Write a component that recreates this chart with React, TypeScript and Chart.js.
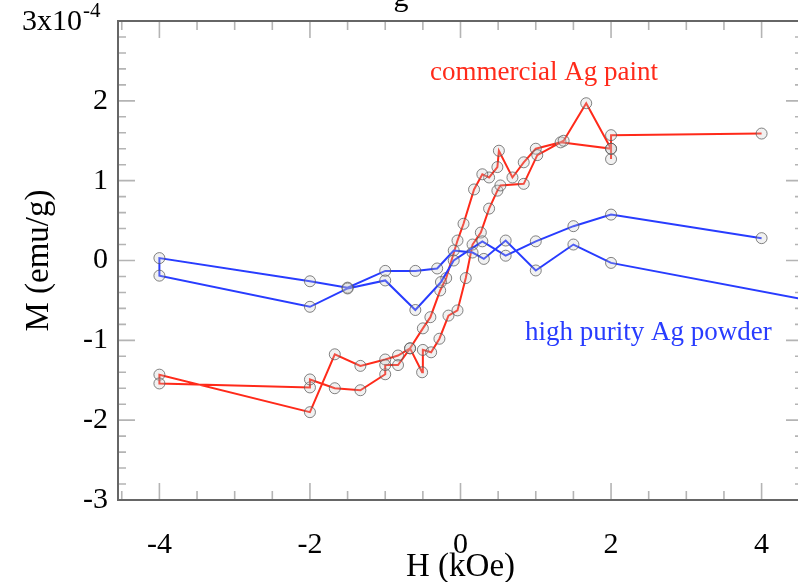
import React, { useEffect, useRef } from 'react';
import { Chart, registerables } from 'chart.js';

Chart.register(...registerables);

// ---- data (H in kOe, M in 1e-4 emu/g), in measurement order ----
const blueH = [5.0, 2.0, 1.5, 1.0, 0.6, 0.31, 0.16, -0.09, -0.31, -0.6, -1.0, -1.5, -2.0, -4.0,
  -4.0, -2.0, -1.5, -1.0, -0.6, -0.26, -0.09, 0.29, 0.6, 1.0, 1.5, 2.0, 4.0];
const blueM = [-0.565, -0.03, 0.2, -0.125, 0.25, 0.02, 0.1, 0.125, -0.1, -0.13, -0.13, -0.34, -0.26, 0.03,
  -0.19, -0.58, -0.35, -0.25, -0.62, -0.27, 0.0, 0.24, 0.06, 0.24, 0.43, 0.575, 0.28];

const redH = [2.0, 2.0, 1.33, 1.0, 0.84, 0.69, 0.51, 0.49, 0.38, 0.29, 0.18, 0.04, -0.04, -0.19, -0.27,
  -0.4, -0.5, -0.67, -0.83, -1.0, -1.33, -1.67, -2.0, -4.0,
  -4.0, -2.0, -2.0, -1.67, -1.33, -1.0, -1.0, -0.83, -0.67, -0.51, -0.5, -0.39, -0.28, -0.16, -0.04,
  0.07, 0.16, 0.27, 0.38, 0.49, 0.53, 0.84, 1.02, 1.37, 1.67, 2.0, 2.0, 4.0];
const redM = [1.27, 1.4, 1.48, 1.4, 1.23, 1.04, 1.375, 1.17, 1.04, 1.08, 0.89, 0.46, 0.25, -0.22, -0.375,
  -0.71, -0.85, -1.1, -1.19, -1.24, -1.32, -1.175, -1.9, -1.43,
  -1.54, -1.59, -1.49, -1.6, -1.625, -1.425, -1.31, -1.31, -1.1, -1.4, -1.12, -1.15, -0.98, -0.69, -0.625,
  -0.22, 0.2, 0.35, 0.65, 0.875, 0.94, 0.96, 1.32, 1.5, 1.97, 1.4, 1.57, 1.59];

const xTickValues = [-4, -2, 0, 2, 4];
const yTickValues = [-3, -2, -1, 0, 1, 2, 3];
const xTitle = 'H (kOe)';
const yTitle = 'M (emu/g)';
const yTopLabel = '3x10';
const yTopExponent = '-4';
const redName = 'commercial Ag paint';
const blueName = 'high purity Ag powder';
const topTitleFragment = 'g';

const xRange = [-4.55, 4.55];
const yRange = [-3, 3];
const redLabelAt = [-0.405, 2.26];
const blueLabelAt = [0.857, -0.996];

const SERIF = '"Liberation Serif", "Times New Roman", serif';
const RED = 'rgb(255, 42, 26)';
const BLUE = 'rgb(40, 60, 255)';

const toPts = (xs: number[], ys: number[]) => xs.map((x, i) => ({ x, y: ys[i] }));

const decor = {
  id: 'decor',
  beforeDatasetsDraw(chart: any) {
    const { ctx, chartArea: a, scales } = chart;
    const xs = scales.x, ys = scales.y;
    ctx.save();
    ctx.strokeStyle = '#b4b4b4';
    ctx.lineWidth = 1.6;
    ctx.beginPath();
    for (let i = -9; i <= 9; i++) {
      const v = i * 0.5;
      const px = xs.getPixelForValue(v);
      const len = Math.abs(v % 2) < 1e-9 ? 17 : 9;
      ctx.moveTo(px, a.top); ctx.lineTo(px, a.top + len);
      ctx.moveTo(px, a.bottom); ctx.lineTo(px, a.bottom - len);
    }
    for (let i = -15; i <= 15; i++) {
      const v = i * 0.2;
      const py = ys.getPixelForValue(v);
      const len = i % 5 === 0 ? 17 : 8;
      ctx.moveTo(a.left, py); ctx.lineTo(a.left + len, py);
      ctx.moveTo(a.right, py); ctx.lineTo(a.right - len, py);
    }
    ctx.stroke();
    ctx.strokeStyle = '#666';
    ctx.lineWidth = 2;
    ctx.strokeRect(a.left, a.top, a.right - a.left, a.bottom - a.top);
    ctx.restore();
  },
  afterDraw(chart: any) {
    const { ctx, scales } = chart;
    const xs = scales.x, ys = scales.y;
    ctx.save();
    const y3 = ys.getPixelForValue(3);
    ctx.fillStyle = '#000';
    ctx.font = `30px ${SERIF}`;
    ctx.textAlign = 'right';
    ctx.textBaseline = 'middle';
    ctx.fillText(yTopLabel, 82, y3 + 1);
    ctx.font = `21px ${SERIF}`;
    ctx.textAlign = 'left';
    ctx.textBaseline = 'alphabetic';
    ctx.fillText(yTopExponent, 83, y3 - 4);
    ctx.font = `27px ${SERIF}`;
    ctx.fillStyle = RED;
    ctx.fillText(redName, xs.getPixelForValue(redLabelAt[0]), ys.getPixelForValue(redLabelAt[1]));
    ctx.fillStyle = BLUE;
    ctx.fillText(blueName, xs.getPixelForValue(blueLabelAt[0]), ys.getPixelForValue(blueLabelAt[1]));
    ctx.fillStyle = '#000';
    ctx.font = `30px ${SERIF}`;
    ctx.textAlign = 'center';
    ctx.fillText(topTitleFragment, 401, 6);
    ctx.restore();
  },
};

export default function App() {
  const ref = useRef<HTMLCanvasElement>(null);
  useEffect(() => {
    const chart = new Chart(ref.current as HTMLCanvasElement, {
      type: 'scatter',
      data: {
        datasets: [
          {
            label: blueName,
            data: toPts(blueH, blueM),
            showLine: true,
            borderColor: BLUE,
            borderWidth: 2,
            pointRadius: 5.5,
            pointBorderWidth: 1,
            pointBorderColor: 'rgba(90,90,90,0.75)',
            pointBackgroundColor: 'rgba(200,200,200,0.25)',
          },
          {
            label: redName,
            data: toPts(redH, redM),
            showLine: true,
            borderColor: RED,
            borderWidth: 2,
            pointRadius: 5.5,
            pointBorderWidth: 1,
            pointBorderColor: 'rgba(90,90,90,0.75)',
            pointBackgroundColor: 'rgba(200,200,200,0.25)',
          },
        ],
      },
      options: {
        animation: false,
        responsive: false,
        devicePixelRatio: 1,
        layout: { padding: { left: 0, right: 17, top: 21, bottom: 0 } },
        plugins: { legend: { display: false }, tooltip: { enabled: false } },
        scales: {
          x: {
            type: 'linear',
            position: 'bottom',
            min: xRange[0],
            max: xRange[1],
            afterBuildTicks: (s: any) => { s.ticks = xTickValues.map((v) => ({ value: v })); },
            afterFit: (s: any) => { s.height = 82; s.paddingLeft = 0; s.paddingRight = 0; },
            grid: { display: false, drawTicks: false },
            border: { display: false },
            ticks: {
              color: '#000',
              padding: 27,
              font: { family: SERIF, size: 30 },
              callback: (v: any) => String(v),
            },
            title: {
              display: true,
              text: xTitle,
              color: '#000',
              font: { family: SERIF, size: 33, lineHeight: 1 },
              padding: { top: 0, bottom: -2 },
            },
          },
          y: {
            type: 'linear',
            min: yRange[0],
            max: yRange[1],
            afterBuildTicks: (s: any) => { s.ticks = yTickValues.map((v) => ({ value: v })); },
            afterFit: (s: any) => { s.width = 118; s.paddingTop = 0; s.paddingBottom = 0; },
            grid: { display: false, drawTicks: false },
            border: { display: false },
            ticks: {
              color: '#000',
              padding: 10,
              font: { family: SERIF, size: 30 },
              callback: (v: any) => (v === 3 ? '' : String(v)),
            },
            title: {
              display: true,
              text: yTitle,
              color: '#000',
              font: { family: SERIF, size: 33, lineHeight: 1 },
              padding: { top: 23, bottom: 0 },
            },
          },
        },
      },
      plugins: [decor],
    } as any);
    return () => chart.destroy();
  }, []);
  return (
    <div style={{ position: 'fixed', left: 0, top: 0, width: 798, height: 582, overflow: 'hidden', background: '#fff' }}>
      <canvas ref={ref} width={820} height={582} style={{ display: 'block', width: 820, height: 582 }} />
    </div>
  );
}
